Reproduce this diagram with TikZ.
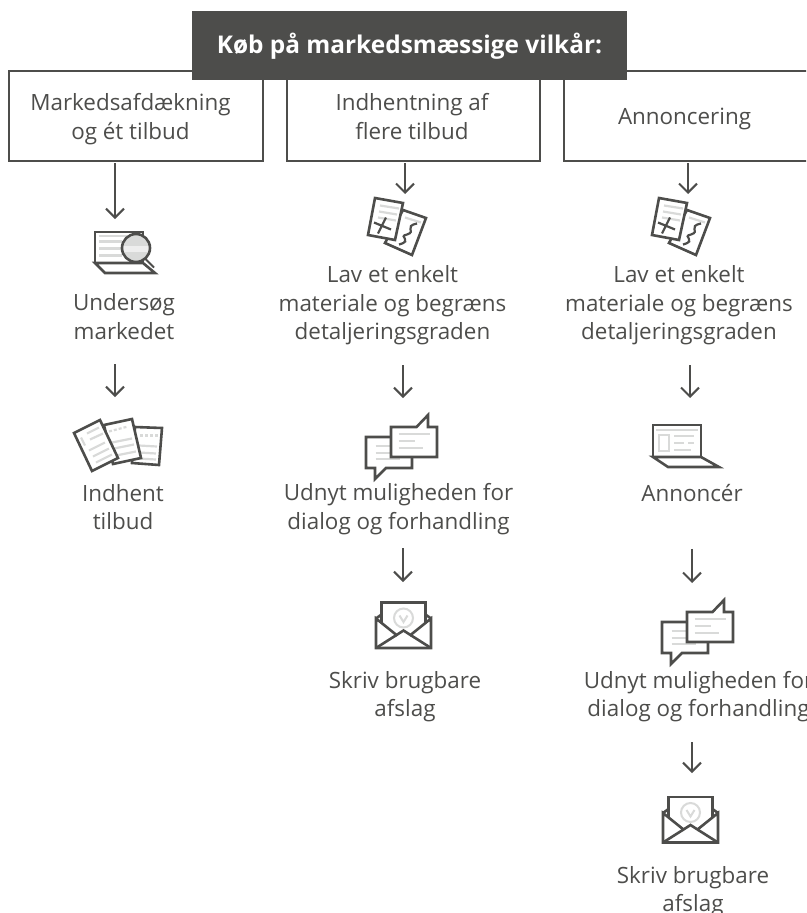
\documentclass[tikz,border=0pt]{standalone}
\usepackage{fontspec}
\setmainfont{Open Sans}
\usetikzlibrary{arrows.meta}
\definecolor{mark}{HTML}{4D4D4B}
\definecolor{soft}{HTML}{D9DAD9}
\tikzset{
	every node/.style={inner sep=0pt,text=mark},
	label/.style={align=center,font=\fontsize{22.4}{28.6}\selectfont},
	headbox/.style={draw=mark,line width=2pt,fill=white},
	iconbox/.style={minimum width=50pt,minimum height=40pt},
	arrowline/.style={draw=mark,line width=2pt,-{Straight Barb[length=9pt,width=18pt,line width=2pt]}},
	outline/.style={draw=mark,line width=2.6pt,line join=miter},
	thinline/.style={draw=soft,line width=2.2pt},
	pics/finder/.style={code={
		\draw[outline] (-30,10.5) rectangle (18,-20.5);
		\foreach \y in {-11,-4,3}{\draw[thinline] (-26,\y)--(-3,\y);}
		\draw[thinline] (-26,-16.5)--(14,-16.5);
		\draw[outline,fill=white] (-30,10.5)--(-20,20.5)--(30,20.5)--(18,10.5)--cycle;
		\draw[outline,line width=1.8pt] (20,6)--(29,15);
		\fill[soft] (11,-4.5) circle (14);
		\fill[soft!45] (-2.5,-7) rectangle (24.5,-1);
		\draw[outline] (11,-4.5) circle (14);
	}},
	pics/papers/.style={code={
		\draw[outline,fill=white] (17,-18.5)--(44,-17.5)--(41,19.5)--(14,17.5)--cycle;
		\draw[thinline,dash pattern=on 3pt off 2pt] (22,-10)--(40,-10);
		\draw[thinline] (21,0)--(39,1) (21,7)--(38,8) (20,13)--(38,14);
		\draw[outline,fill=white] (-14,-20.5)--(14,-26.5)--(23,12.5)--(-5,18.5)--cycle;
		\draw[thinline,dash pattern=on 3pt off 2pt] (-9,-14)--(10,-19);
		\draw[thinline] (-6,-3)--(14,-7) (-4,3)--(16,-1) (-2,10)--(18,6);
		\draw[outline,fill=white] (-44,-12.5)--(-18,-25.5)--(0,12.5)--(-26,25.5)--cycle;
		\draw[thinline] (-37,-8)--(-33,0) (-31,-12)--(-19,-18) (-28,-6)--(-15,-12) (-29,5)--(-13,-3) (-25,11)--(-9,3) (-22,17)--(-6,9);
	}},
	pics/sheets/.style={code={
		\draw[outline,fill=white] (6,-16.5)--(29,-8.5)--(15,28.5)--(-12,16.5)--cycle;
		\draw[thinline] (8,-9)--(24,-4);
		\draw[outline,line width=2.2pt] (20,-3)..controls (6,0) and (20,5) .. (10,8)..controls (0,10) and (17,14) .. (2,18);
		\draw[outline,fill=white] (-22,-28.5)--(6,-23.5)--(-2,13.5)--(-29,8.5)--cycle;
		\draw[thinline] (-17,-21)--(2,-18) (-18,-15)--(0,-12) (-19,-9)--(-1,-6);
		\draw[outline,line width=2.2pt] (-23,-4)--(-6,3) (-11,-9)--(-19,7);
	}},
	pics/talk/.style={code={
		\draw[outline,fill=white] (-35.5,-10)--(10.5,-10)--(10.5,21)--(-15.5,21)--(-26.5,32)--(-26.5,21)--(-35.5,21)--cycle;
		\draw[thinline] (-26,-1)--(-10,-1) (-26,6)--(-10,6) (-26,12)--(-2,12);
		\draw[outline,fill=white] (-10.5,-20)--(15,-20)--(26.5,-32)--(26.5,-20)--(35.5,-20)--(35.5,10)--(-10.5,10)--cycle;
		\draw[thinline] (-3,-13)--(28,-13) (-3,-6)--(13,-6) (-3,1)--(21,1);
	}},
	pics/letter/.style={code={
		\draw[outline,line width=1.8pt] (0,-21) ++(-3.5,0) arc (180:0:3.5);
		\draw[outline] (-22,-9)--(-27.5,-5) (22,-9)--(27.5,-5);
		\draw[outline,fill=white] (-22,8)--(-22,-21)--(22,-21)--(22,8);
		\draw[thinline,line width=2pt] (0,-5.5) circle (9.5);
		\draw[thinline,line width=2pt] (-4,-8)--(0,-1.5)--(4,-8);
		\draw[outline,fill=white] (-27.5,-5)--(-7,11.5)--(0,7)--(7,11.5)--(27.5,-5)--(27.5,24.5)--(-27.5,24.5)--cycle;
		\draw[outline] (-27.5,24.5)--(-7,11.5) (27.5,24.5)--(7,11.5);
	}},
	pics/screen/.style={code={
		\draw[outline,fill=white] (-33,11) rectangle (15,-21);
		\draw[thinline] (-30,-16)--(12,-16);
		\draw[thinline] (-27,-11) rectangle (-17,5);
		\draw[thinline] (-12,-10)--(8,-10) (-12,-3)--(-2,-3) (2,-3)--(8,-3) (-12,4)--(5,4);
		\draw[outline,fill=white] (-33,11)--(-18,21)--(33,21)--(15,11)--cycle;
	}},
}
\begin{document}
\begin{tikzpicture}[x=1pt,y=-1pt]
	\useasboundingbox (0,0) rectangle (806,913);
	\clip (0,0) rectangle (806,913);
	% boxes at the top
	\node[headbox,minimum width=254pt,minimum height=90pt] (market) at (136,116) {};
	\node[headbox,minimum width=253pt,minimum height=90pt] (offers) at (413.5,116) {};
	\node[headbox,minimum width=260pt,minimum height=90pt] (advert) at (694,116) {};
	\node[fill=mark,minimum width=435pt,minimum height=69pt,text=white,text height=20pt,text depth=5pt,font=\fontsize{24.4}{28}\selectfont\bfseries] (title) at (409.5,45.5) {Køb på markedsmæssige vilkår:};
	\node[label] (marketname) at (130.5,119.5) {\strut Markedsafdækning\\\strut og ét tilbud};
	\node[label] (offersname) at (412,119) {\strut Indhentning af\\\strut flere tilbud};
	\node[label] (advertname) at (684.5,118.3) {\strut Annoncering};
	% first column
	\node[iconbox] (findicon) at (125,252.5) {}; \pic at (findicon) {finder};
	\node[label] (search) at (124,319.3) {\strut Undersøg\\\strut markedet};
	\node[iconbox] (papericon) at (118,445.5) {}; \pic at (papericon) {papers};
	\node[label] (fetch) at (123,509.6) {\strut Indhent\\\strut tilbud};
	% second column
	\node[iconbox] (sheeticon) at (397,226.5) {}; \pic at (sheeticon) {sheets};
	\node[label] (simple) at (392.5,305.3) {\strut Lav et enkelt\\\strut materiale og begræns\\\strut detaljeringsgraden};
	\node[iconbox] (talkicon) at (401.5,447) {}; \pic at (talkicon) {talk};
	\node[label] (dialog) at (398.5,509.5) {\strut Udnyt muligheden for\\\strut dialog og forhandling};
	\node[iconbox] (lettericon) at (403.5,623.5) {}; \pic at (lettericon) {letter};
	\node[label] (reject) at (405,696.6) {\strut Skriv brugbare\\\strut afslag};
	% third column
	\node[iconbox] (sheeticonb) at (681,226.5) {}; \pic at (sheeticonb) {sheets};
	\node[label] (simpleb) at (679,305.3) {\strut Lav et enkelt\\\strut materiale og begræns\\\strut detaljeringsgraden};
	\node[iconbox] (screenicon) at (686,446) {}; \pic at (screenicon) {screen};
	\node[label] (post) at (692,495.3) {\strut Annoncér};
	\node[iconbox] (talkiconb) at (697.5,632) {}; \pic at (talkiconb) {talk};
	\node[label] (dialogb) at (698.5,696.6) {\strut Udnyt muligheden for\\\strut dialog og forhandling};
	\node[iconbox] (lettericonb) at (690.5,818) {}; \pic at (lettericonb) {letter};
	\node[label] (rejectb) at (693,891.6) {\strut Skriv brugbare\\\strut afslag};
	% arrow tips
	\path (115,219) coordinate (tipa)
	(115,397) coordinate (tipb)
	(405,194) coordinate (tipc)
	(403,398) coordinate (tipd)
	(403,582) coordinate (tipe)
	(688,194) coordinate (tipf)
	(690,398) coordinate (tipg)
	(692,583) coordinate (tiph)
	(692,773) coordinate (tipi)
	;
	\foreach \from/\tip/\gap in {market/tipa/1,search/tipb/16,offers/tipc/1,simple/tipd/17,dialog/tipe/10,advert/tipf/1,simpleb/tipg/17,post/tiph/39,dialogb/tipi/17}{
		\draw[arrowline,shorten <=\gap pt] (\from.south -| \tip)--(\tip);
	}
\end{tikzpicture}
\end{document}
